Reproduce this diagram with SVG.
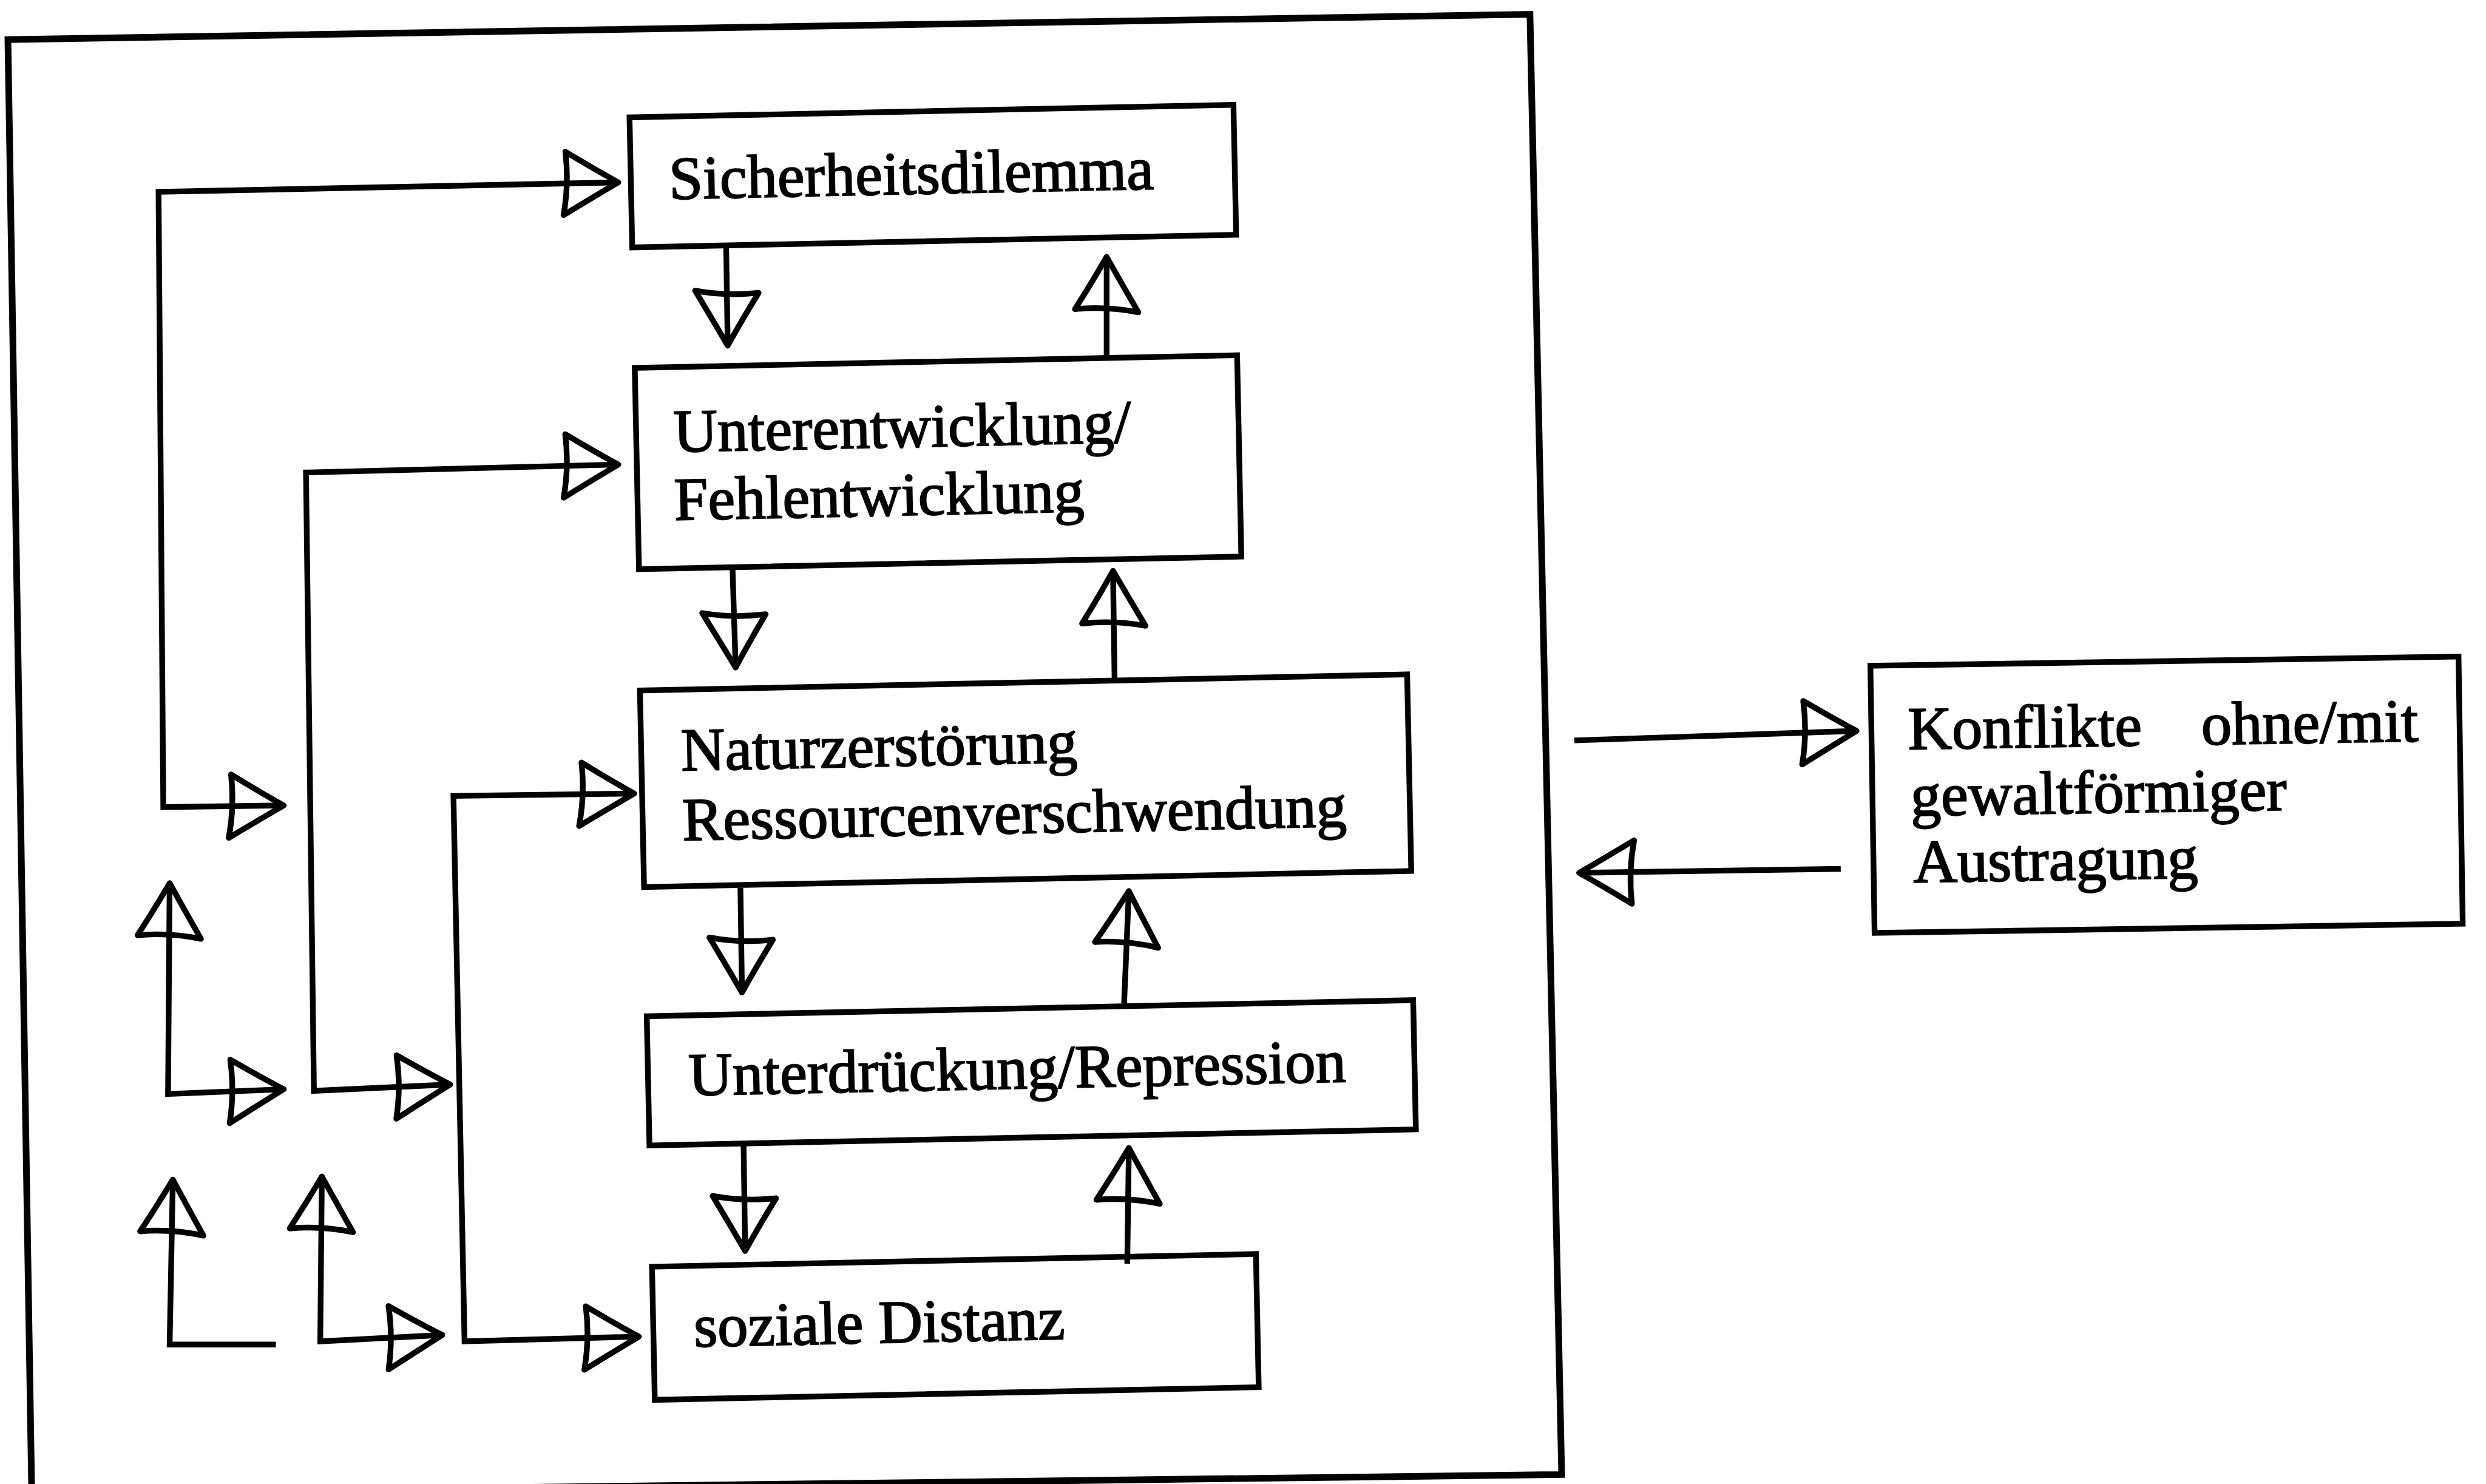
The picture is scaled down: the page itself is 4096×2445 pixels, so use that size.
<svg xmlns="http://www.w3.org/2000/svg" width="4096" height="2445" viewBox="0 0 4096 2445">
<style>
.box{fill:none;stroke:#000;stroke-width:3.6}
.frame{fill:none;stroke:#000;stroke-width:4.2}
.lbl{font-family:"Liberation Serif","Times New Roman",serif;font-size:38.5px;fill:#000;stroke:#000;stroke-width:0.8}
.c{fill:none;stroke:#000;stroke-width:3.6;stroke-linejoin:miter}
.both{marker-start:url(#ah);marker-end:url(#ah)}
.end{marker-end:url(#ah)}
.start{marker-start:url(#ah)}
</style>
<defs>
<marker id="ah" markerUnits="userSpaceOnUse" viewBox="-40 -26 44 52" refX="0" refY="0" markerWidth="44" markerHeight="52" orient="auto-start-reverse" overflow="visible">
<path d="M-33,-20 Q-14,-8 0,0 Q-16,9 -35,20 Q-31,0 -33,-20 Z" fill="none" stroke="#000" stroke-width="3.6" stroke-linejoin="round" stroke-linecap="round"/>
</marker>
</defs>
<rect width="4096" height="2445" fill="#fff"/>
<g transform="scale(2.61224)">
<polygon id="frame" class="frame" points="5,25 965,9 985,930 20,942"/>
<g transform="rotate(-1.2 500 500)">
<g id="n1"><rect class="box" x="406" y="72" width="381" height="82"/><text class="lbl" x="430" y="124">Sicherheitsdilemma</text></g>
<g id="n2"><rect class="box" x="406" y="230" width="380" height="127"/><text class="lbl" x="429.5" y="283.5">Unterentwicklung/</text><text class="lbl" x="429" y="326.5">Fehlentwicklung</text></g>
<g id="n3"><rect class="box" x="405" y="433.5" width="484" height="124"/><text class="lbl" x="430" y="484.5">Naturzerstörung</text><text class="lbl" x="430" y="528.5">Ressourcenverschwendung</text></g>
<g id="n4"><rect class="box" x="405" y="639" width="483.5" height="81.5"/><text class="lbl" x="430.5" y="689.5">Unterdrückung/Repression</text></g>
<g id="n5"><rect class="box" x="405" y="797" width="381" height="84"/><text class="lbl" x="430.5" y="848">soziale Distanz</text></g>
</g>
<g id="n6" transform="rotate(-0.9 1367 500)"><rect class="box" x="1181" y="417" width="371" height="168.5"/><text class="lbl"><tspan x="1204" y="470">Konflikte </tspan><tspan x="1389" y="470">ohne/mit</tspan></text><text class="lbl" x="1205" y="512">gewaltförmiger</text><text class="lbl" x="1206" y="554">Austragung</text></g>
<g id="connectors">
<path class="c both" d="M390,115 L100,121 L103,509 L179,508"/>
<path class="c both" d="M390,293 L193,298 L198,688 L284,684"/>
<path class="c both" d="M400,500.5 L286,502 L293,846 L403,843"/>
<path class="c both" d="M107,557 L106,690 L179,687"/>
<path class="c start" d="M109,744 L107,848 L174,848"/>
<path class="c both" d="M203,742 L202,846 L279,842"/>
<path class="c end" d="M458,155 L459,218"/>
<path class="c end" d="M698,225 L698,162"/>
<path class="c end" d="M462,358 L464,421"/>
<path class="c end" d="M703,428 L702,360"/>
<path class="c end" d="M467,560 L468,626"/>
<path class="c end" d="M709,633 L712,562"/>
<path class="c end" d="M469,722 L470,789"/>
<path class="c end" d="M711,797 L712,724"/>
<path class="c end" d="M993,467 L1171,461"/>
<path class="c end" d="M1161,548 L996,550.5"/>
</g>
</g>
</svg>
